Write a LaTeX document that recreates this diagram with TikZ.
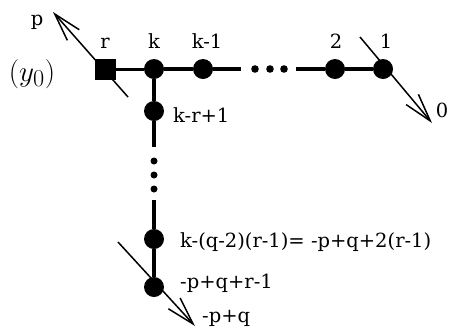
\documentclass[tikz,border=0pt]{standalone}
\usepackage{amsmath}
\usepackage{fontspec}
\setmainfont{DejaVu Serif}
\usetikzlibrary{arrows.meta}

\begin{document}
\begin{tikzpicture}[x=1pt, y=-1pt, >={Straight Barb[length=28pt,width=16pt]},
    site/.style={circle, fill, inner sep=0pt, minimum size=20pt},
    box/.style={rectangle, fill, inner sep=0pt, minimum size=21pt},
    bond/.style={line width=4.5pt},
    leg/.style={->, line width=1.5pt},
    lbl/.style={inner sep=0pt, font=\fontsize{19.5}{22}\selectfont}]

\useasboundingbox (0,0) rectangle (454,333);

% Parameters (pixel rows of the two chains)
\def\yh{69}   % horizontal chain
\def\xv{154}  % vertical chain

% Sites of the horizontal chain
\node[box]  (r)   at (105,\yh) {};
\node[site] (k)   at (\xv,\yh) {};
\node[site] (km1) at (203,\yh) {};
\node[site] (two) at (335,\yh) {};
\node[site] (one) at (383,\yh) {};

% Sites of the vertical chain
\node[site] (krp1) at (\xv,111) {};
\node[site] (kq)   at (\xv,239) {};
\node[site] (pqr)  at (\xv,287) {};

% Ends of the dotted gaps
\coordinate (h1) at (241,\yh);
\coordinate (h2) at (296,\yh);
\coordinate (v1) at (\xv,147);
\coordinate (v2) at (\xv,200);

% Bonds
\draw[line width=3pt] (r) -- (k);
\draw[bond] (k) -- (km1) -- (h1);
\draw[bond] (h2) -- (two) -- (one);
\draw[bond] (k) -- (krp1) -- (v1);
\draw[bond] (v2) -- (kq) -- (pqr);

% Dots
\foreach \x in {255,270,284}
{
    \fill (\x,\yh) circle (3.8);
}
\foreach \y in {161,175,189}
{
    \fill (\xv,\y) circle (3.5);
}

% External legs
\coordinate (pa) at (128,97);
\coordinate (pb) at (53,12);
\coordinate (oa) at (360,37);
\coordinate (ob) at (432,123);
\coordinate (qa) at (118,242);
\coordinate (qb) at (195,326);
\draw[leg] (pa) -- (pb);
\draw[leg] (oa) -- (ob);
\draw[leg] (qa) -- (qb);

% Labels
\node[lbl, anchor=base] (lp)   at (37,25)   {p};
\node[lbl, anchor=base] (lr)   at (105,48)  {r};
\node[lbl, anchor=base] (lk)   at (\xv,48)  {k};
\node[lbl, anchor=base] (lkm1) at (207,48)  {k-1};
\node[lbl, anchor=base] (ltwo) at (336,48)  {2};
\node[lbl, anchor=base] (lone) at (386,48)  {1};
\node[lbl, anchor=base] (lzero) at (442,117) {0};
\node[lbl, anchor=base west] (lkrp1) at (173,122) {k-r+1};
\node[lbl, anchor=base west] (lkq)   at (180,247) {k-(q-2)(r-1)= -p+q+2(r-1)};
\node[lbl, anchor=base west] (lpqr)  at (180,288) {-p+q+r-1};
\node[lbl, anchor=base west] (lpq)   at (202,322) {-p+q};
\node[inner sep=0pt, scale=1.17, font=\fontsize{24.88}{28}\selectfont] (ly) at (32,74) {$(y_0)$};

\end{tikzpicture}
\end{document}
